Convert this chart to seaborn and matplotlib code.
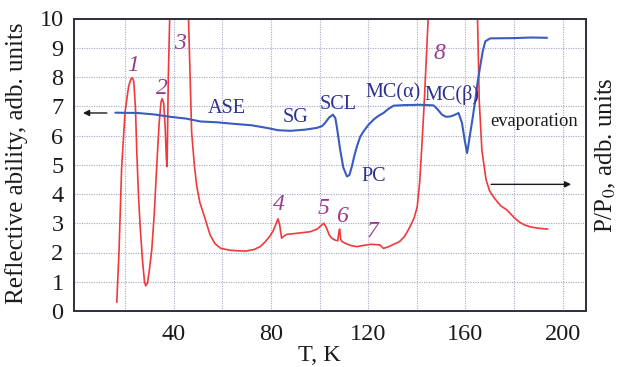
import numpy as np
import pandas as pd
import matplotlib
matplotlib.use("Agg")
import matplotlib.pyplot as plt
import seaborn as sns

# ---- data ----
blue_T = [16, 25, 32, 38.5, 45, 51, 58, 64.5, 72, 78.3, 83, 88, 94, 98.9, 101, 102.3, 104,
          105.5, 106.5, 107.1, 108.5, 109.8, 111.3, 112.3, 113.3, 114.3, 115.4, 116.7, 118.1,
          120, 122.2, 124, 126.3, 128.5, 130.5, 135, 141.4, 146.9, 148.5, 150.4, 152, 153.8,
          155.5, 157.2, 158.6, 159.6, 160.7, 161.3, 162, 163, 164.1, 165, 166.1, 167.2, 168.2,
          170.2, 180, 187, 193.6]
blue_R = [6.78, 6.77, 6.72, 6.64, 6.58, 6.48, 6.45, 6.40, 6.35, 6.26, 6.18, 6.16, 6.20, 6.26,
          6.32, 6.43, 6.62, 6.71, 6.60, 6.31, 5.51, 4.90, 4.60, 4.65, 4.94, 5.30, 5.63, 5.95,
          6.14, 6.35, 6.54, 6.66, 6.77, 6.92, 7.02, 7.04, 7.05, 7.03, 6.90, 6.71, 6.64, 6.65,
          6.70, 6.77, 6.43, 5.90, 5.40, 5.70, 6.08, 6.60, 7.23, 7.80, 8.37, 8.90, 9.22,
          9.32, 9.33, 9.35, 9.34]

red_T = [16.6, 17.5, 18.6, 20.0, 21.5, 22.5, 23.0, 23.6, 24.3, 24.8, 25.5, 26.2, 27.2, 28.0,
         28.5, 29.2, 30.0, 31.0, 32.0, 33.0, 34.0, 34.8, 35.3, 35.9, 36.5, 37.0, 37.3, 37.8,
         38.5, 40, 42, 44, 46, 47.4, 48.5, 49.5, 50.8, 52.2, 53.5, 55.0, 57.0, 59.4, 63, 66,
         69.7, 73, 75.6, 77.5, 79.5, 81.0, 82.2, 82.9, 83.6, 84.4, 85.2, 86.5, 90, 93, 96.2,
         99, 100.8, 101.8, 102.8, 104, 105, 106.5, 107.5, 108.0, 108.3, 108.7, 109.3, 111,
         113, 115.3, 118, 121.1, 124.8, 126.3, 128.5, 131, 132.9, 135, 137.3, 139, 140.2,
         141.2, 142, 143, 143.8, 144.7, 146, 155, 164, 165, 165.7, 166.8, 168.5, 170, 172,
         174.5, 177, 180, 182, 184.4, 187, 190, 193.9]
red_P = [0.3, 2.0, 4.9, 6.8, 7.7, 7.95, 7.97, 7.85, 6.9, 5.5, 4.0, 2.9, 1.7, 1.0,
         0.86, 0.95, 1.4, 2.1, 3.3, 4.9, 6.4, 7.15, 7.26, 7.1, 6.3, 5.2, 4.94, 8.0,
         10.5, 13, 14, 13, 10.3, 6.1, 5.0, 4.26, 3.7, 3.35, 3.0, 2.6, 2.3, 2.14, 2.08, 2.06,
         2.05, 2.1, 2.2, 2.35, 2.55, 2.75, 3.0, 3.15, 2.95, 2.49, 2.55, 2.62, 2.65, 2.68, 2.71,
         2.8, 2.93, 3.0, 2.85, 2.6, 2.49, 2.42, 2.4, 2.72, 2.8, 2.45, 2.37, 2.3,
         2.24, 2.2, 2.24, 2.28, 2.26, 2.14, 2.2, 2.3, 2.37, 2.55, 2.89, 3.2, 3.57,
         4.4, 5.5, 7.0, 8.4, 10.0, 12, 14, 12, 10.0, 7.2, 5.5, 4.49, 4.1, 3.85,
         3.6, 3.46, 3.2, 3.05, 2.94, 2.87, 2.83, 2.8]

peak_labels = ["1", "2", "3", "4", "5", "6", "7", "8"]
peak_T = [23.3, 35.2, 42.6, 83.2, 101.6, 109.3, 121.9, 149.4]
peak_y = [8.4, 7.6, 9.15, 3.63, 3.52, 3.23, 2.71, 8.82]

phase_labels = ["ASE", "SG", "SCL", "PC", "MC(α)", "MC(β)"]
phase_T = [61.9, 90.0, 107.8, 122.2, 130.1, 154.5]
phase_y = [6.94, 6.60, 7.05, 4.60, 7.45, 7.40]

x_ticks = [40, 80, 120, 160, 200]
y_ticks = list(range(0, 11))

# ---- styling ----
sns.set_theme(style="white")
plt.rcParams["font.family"] = ["Liberation Serif", "DejaVu Serif"]
plt.rcParams["mathtext.fontset"] = "stix"

RED = "#f0393b"
BLUE = "#3a5bbf"
NAVY = "#2d318f"
PURPLE = "#9a3a8c"
SPINE = "#2e2e3e"
TXT = "#1a1a1a"

fig = plt.figure(figsize=(6.22, 3.67), dpi=100)
ax = fig.add_axes([74/622, 1-311/367, (585.7-74)/622, (311-18.5)/367])

df_red = pd.DataFrame({"T": red_T, "P": red_P})
df_blue = pd.DataFrame({"T": blue_T, "R": blue_R})
sns.lineplot(data=df_red, x="T", y="P", color=RED, lw=1.2, sort=False,
             estimator=None, ax=ax)
sns.lineplot(data=df_blue, x="T", y="R", color=BLUE, lw=1.5, sort=False,
             estimator=None, ax=ax)

ax.set_xlim(-1, 209.5)
ax.set_ylim(0, 10)
ax.set_xticks(x_ticks)
ax.set_xticks([20, 60, 100, 140, 180], minor=True)
ax.set_yticks(y_ticks)
ax.tick_params(axis="both", which="major", direction="in", labelsize=17.5,
               colors=TXT, width=1.3)
ax.tick_params(axis="x", which="major", length=9, pad=9.5)
ax.tick_params(axis="y", which="major", length=11, pad=7.5)
ax.tick_params(axis="x", which="minor", length=0)
ax.grid(True, which="both", linestyle=(0, (1, 1.2)), color="#a3a9c4", lw=0.8)
ax.set_axisbelow(True)
for s in ax.spines.values():
    s.set_color(SPINE)
    s.set_linewidth(1.4)
    s.set_visible(True)

ax.set_xlabel("T, K", fontsize=17.5, color=TXT)
ax.xaxis.set_label_coords(0.479, -0.117)
ax.set_ylabel("Reflective ability, adb. units", fontsize=18, color=TXT)
ax.yaxis.set_label_coords(-0.09, 0.505)
ax.text(1.04, 0.533, "P/P$_0$, adb. units", transform=ax.transAxes, rotation=90,
        ha="center", va="center", fontsize=18, color=TXT)

for lab, t, y in zip(peak_labels, peak_T, peak_y):
    ax.text(t, y, lab, color=PURPLE, fontsize=17, style="italic",
            ha="center", va="center")
for lab, t, y in zip(phase_labels, phase_T, phase_y):
    ax.text(t, y, lab, color=NAVY, fontsize=14.5, ha="center", va="center")
ax.text(188.1, 6.48, "evaporation", color=TXT, fontsize=13.3,
        ha="center", va="center")

ax.annotate("", xy=(2.7, 6.77), xytext=(12.5, 6.77),
            arrowprops=dict(arrowstyle="-|>", color=TXT, lw=1.0,
                            mutation_scale=9, shrinkA=0, shrinkB=0))
ax.annotate("", xy=(203.5, 4.33), xytext=(170.6, 4.33),
            arrowprops=dict(arrowstyle="-|>", color=TXT, lw=1.0,
                            mutation_scale=9, shrinkA=0, shrinkB=0))

fig.savefig("out.png", dpi=100)
